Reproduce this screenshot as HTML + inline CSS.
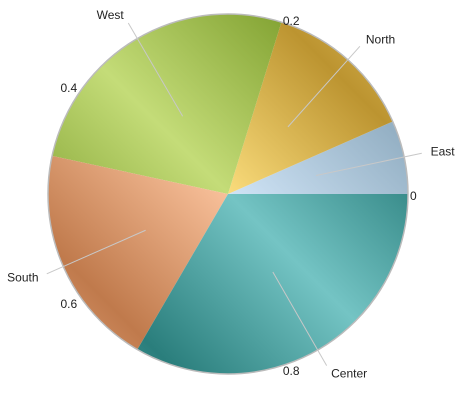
<!DOCTYPE html>
<html><head><meta charset="utf-8"><style>
html,body{margin:0;padding:0;background:#fff;width:469px;height:403px;overflow:hidden}
text{font-family:"Liberation Sans",sans-serif;font-size:12px;fill:#222}
</style></head><body>
<svg id="chart" width="469" height="403" xmlns="http://www.w3.org/2000/svg">
<defs id="defs"></defs>
<g id="slices"></g>
<circle cx="228" cy="194" r="180" fill="none" stroke="#bbb" stroke-width="1.5"/>
<g id="labels"></g>
</svg>
<script>
const categories=["East","North","West","South","Center"];
const values=[6.6,13.6,26.4,20,33.4];
const axisTicks=["0","0.2","0.4","0.6","0.8"];
const light=["#d0e4f6","#fadc7c","#c4dc78","#f8c09a","#74c4c4"];
const dark=["#94b0c4","#bc9430","#84a434","#c07a4c","#2a7e7c"];
const cx=228,cy=194,R=180,NS="http://www.w3.org/2000/svg";
const total=values.reduce((a,b)=>a+b,0);
function pt(f,r){const a=f*2*Math.PI;return [cx+r*Math.cos(a),cy-r*Math.sin(a)];}
const defs=document.getElementById('defs'),gS=document.getElementById('slices'),gL=document.getElementById('labels');
let acc=0;
values.forEach((v,i)=>{
 const f0=acc/total,f1=(acc+v)/total,fm=(f0+f1)/2;acc+=v;
 const g=document.createElementNS(NS,'linearGradient');g.id='g'+i;
 g.setAttribute('gradientUnits','userSpaceOnUse');
 g.setAttribute('spreadMethod','reflect');
 const d=R*0.9/Math.SQRT2;
 g.setAttribute('x1',cx);g.setAttribute('y1',cy);g.setAttribute('x2',cx+d);g.setAttribute('y2',cy-d);
 g.innerHTML=`<stop offset="0" stop-color="${light[i]}"/><stop offset="1" stop-color="${dark[i]}"/>`;
 defs.appendChild(g);
 const [x0,y0]=pt(f0,R),[x1,y1]=pt(f1,R);
 const p=document.createElementNS(NS,'path');
 p.setAttribute('d',`M${cx},${cy}L${x0},${y0}A${R},${R} 0 ${f1-f0>0.5?1:0} 0 ${x1},${y1}Z`);
 p.setAttribute('fill',`url(#g${i})`);
 
 
 gS.appendChild(p);
 const [lx0,ly0]=pt(fm,R*0.5),[lx1,ly1]=pt(fm,R*1.1);
 const l=document.createElementNS(NS,'line');
 l.setAttribute('x1',lx0);l.setAttribute('y1',ly0);l.setAttribute('x2',lx1);l.setAttribute('y2',ly1);
 l.setAttribute('stroke','#c8c8c8');l.setAttribute('stroke-width','1');
 
 
 gL.appendChild(l);
 const [tx,ty]=pt(fm,R*1.15);
 const t=document.createElementNS(NS,'text');
 t.setAttribute('x',tx);t.setAttribute('y',ty+4);
 t.setAttribute('text-anchor',tx>cx+20?'start':(tx<cx-20?'end':'middle'));
 t.textContent=categories[i];
 
 
 gL.appendChild(t);
});
axisTicks.forEach((s,i)=>{
 const f=parseFloat(s);const [tx,ty]=pt(f,R+4);
 const t=document.createElementNS(NS,'text');
 t.setAttribute('x',tx-2);t.setAttribute('y',ty+6);
 t.setAttribute('text-anchor',tx>cx+20?'start':(tx<cx-20?'end':'middle'));
 t.setAttribute('fill','#444');
 t.textContent=s;
 
 
 gL.appendChild(t);
});
</script>
</body></html>
